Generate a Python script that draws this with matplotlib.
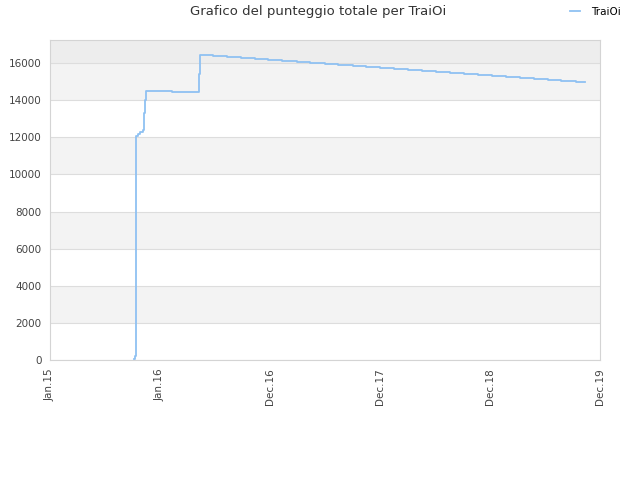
import matplotlib
matplotlib.use("Agg")
import matplotlib.pyplot as plt
import matplotlib.dates as mdates
import pandas as pd

player = "TraiOi"

early_dates = ["2015-10-08", "2015-10-11", "2015-10-13", "2015-10-20", "2015-10-28",
               "2015-11-05", "2015-11-09", "2015-11-11", "2015-11-15", "2016-02-09",
               "2016-05-10", "2016-05-13"]
early_scores = [80, 200, 12100, 12200, 12300, 12400, 13300, 14000, 14500, 14450,
                15400, 16450]

late_dates = ["2016-06-24", "2016-08-09", "2016-09-25", "2016-11-10", "2016-12-26",
              "2017-02-10", "2017-03-29", "2017-05-14", "2017-06-30", "2017-08-15",
              "2017-10-01", "2017-11-16", "2018-01-01", "2018-02-16", "2018-04-03",
              "2018-05-20", "2018-07-05", "2018-08-20", "2018-10-06", "2018-11-21",
              "2019-01-06", "2019-02-21", "2019-04-09", "2019-05-25", "2019-07-10",
              "2019-08-25", "2019-10-11", "2019-11-11"]
late_scores = [16400, 16345, 16290, 16240, 16185, 16130, 16075, 16020, 15970, 15915,
               15860, 15805, 15750, 15700, 15645, 15590, 15535, 15480, 15430, 15375,
               15320, 15265, 15210, 15160, 15105, 15050, 14995, 14995]

tick_labels = ["Jan.15", "Jan.16", "Dec.16", "Dec.17", "Dec.18", "Dec.19"]
tick_dates = ["2015-01-01", "2016-01-01", "2016-12-31", "2017-12-31", "2018-12-31", "2019-12-31"]
y_ticks = [0, 2000, 4000, 6000, 8000, 10000, 12000, 14000, 16000]

dates = pd.to_datetime(early_dates + late_dates)
scores = early_scores + late_scores

fig = plt.figure(figsize=(6.4, 4.8), dpi=100)
ax = fig.add_axes([50 / 640, 120 / 480, 550 / 640, 320 / 480])

ymax = 17250
# alternating bands
for i in range(len(y_ticks) - 1):
    if i % 2 == 1:
        ax.axhspan(y_ticks[i], y_ticks[i + 1], color="#f3f3f3", zorder=0, lw=0)
ax.axhspan(y_ticks[-1], ymax, color="#ededed", zorder=0, lw=0)
for y in y_ticks:
    ax.axhline(y, color="#dddddd", lw=0.8, zorder=1)

ax.plot(dates, scores, drawstyle="steps-post", color="#8fc1f2", lw=1.3, zorder=3, label=player)

ax.set_xlim(pd.Timestamp("2015-01-01"), pd.Timestamp("2019-12-31"))
ax.set_ylim(0, ymax)
ax.set_yticks(y_ticks)
ax.set_yticklabels([str(v) for v in y_ticks])
ax.set_xticks(mdates.date2num(pd.to_datetime(tick_dates)))
ax.set_xticklabels(tick_labels, rotation=90)
ax.tick_params(axis="both", length=0, labelsize=7.5, colors="#444444", pad=6)

for s in ax.spines.values():
    s.set_color("#d4d4d4")
    s.set_linewidth(0.8)

fig.text(318 / 640, 1 - 12 / 480, "Grafico del punteggio totale per TraiOi",
         ha="center", va="center", fontsize=9.5, color="#333333")
fig.legend(loc="center right", bbox_to_anchor=(630 / 640, 1 - 12 / 480), frameon=False,
           fontsize=7.5, handlelength=1.0, handletextpad=1.0)

fig.savefig("out.png", dpi=100)
